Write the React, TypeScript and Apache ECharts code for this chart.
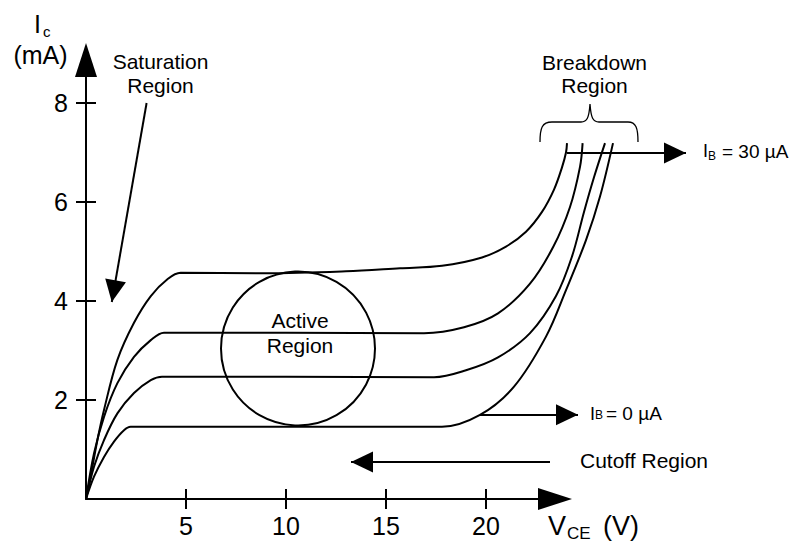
import React, { useEffect, useRef } from 'react';
import * as echarts from 'echarts';

// Collector characteristic curves (VCE in V, IC in mA)
const curveIB30 = [
  [0, 0], [0.23, 0.45], [0.57, 1.19], [0.9, 1.8], [1.57, 2.81], [2.4, 3.56], [3.24, 4.1],
  [4.07, 4.44], [4.73, 4.57], [9, 4.56], [13, 4.6], [15.7, 4.66], [17.8, 4.71], [19.8, 4.88],
  [21.0, 5.1], [22.0, 5.4], [22.8, 5.8], [23.4, 6.25], [23.8, 6.7], [24.0, 7.0], [24.05, 7.19],
];
const curveIB20 = [
  [0, 0], [0.4, 0.92], [0.9, 1.66], [1.57, 2.34], [2.4, 2.87], [3.24, 3.21], [3.9, 3.36],
  [10, 3.36], [16.9, 3.35], [18.9, 3.47], [20.6, 3.75], [22.2, 4.35], [23.37, 5.1],
  [24.2, 5.9], [24.7, 6.71], [24.83, 7.19],
];
const curveIB10 = [
  [0, 0], [0.4, 0.65], [0.9, 1.19], [1.57, 1.73], [2.4, 2.14], [3.24, 2.4], [3.8, 2.47],
  [10, 2.47], [17.4, 2.46], [19.0, 2.6], [20.6, 2.86], [22.2, 3.35], [23.5, 4.1],
  [24.3, 4.9], [24.9, 5.8], [25.4, 6.5], [25.95, 7.19],
];
const curveIB0 = [
  [0, 0], [0.4, 0.45], [0.9, 0.85], [1.4, 1.16], [1.9, 1.39], [2.23, 1.46], [10, 1.46],
  [17.8, 1.46], [19.7, 1.7], [21.4, 2.27], [23.0, 3.28], [24.0, 4.22], [25.0, 5.23],
  [25.7, 6.11], [26.35, 7.19],
];
const curves = [curveIB30, curveIB20, curveIB10, curveIB0];

// Active region circle centre (VCE, IC)
const activeCenter = [10.6, 3.04];

// Annotation arrows: [from, to] in (VCE, IC)
const arrowSaturation = [[3.03, 8.0], [1.29, 3.98]];
const arrowIB30 = [[24.05, 6.99], [30.0, 6.99]];
const arrowIB0 = [[19.7, 1.7], [24.6, 1.7]];
const arrowCutoff = [[23.2, 0.75], [13.25, 0.75]];
const arrows = [arrowSaturation, arrowIB30, arrowIB0, arrowCutoff];

const xTicks = [5, 10, 15, 20];
const yTicks = [2, 4, 6, 8];

const FONT = 'Liberation Sans, Arial, Helvetica, sans-serif';
const BRACE_D =
  'M540 142 C540 128 542 122 552 122 L581 122 C587 122 589 118 590 104 C591 118 593 122 599 122 L628 122 C636 122 638 128 638 142';

export default function App() {
  const ref = useRef<HTMLDivElement>(null);
  useEffect(() => {
    const el = ref.current as HTMLDivElement;
    echarts.graphic.registerShape('brace', echarts.graphic.extendPath(BRACE_D, {}) as any);
    const chart = echarts.init(el, null, { renderer: 'svg' });
    const black = '#000';
    const lineStyle = { color: black, width: 2 };
    const txt = (text: string, x: number, y: number, fontSize: number, align = 'left', lineHeight?: number) => ({
      type: 'text',
      silent: true,
      style: {
        text, x, y, fontSize, fontFamily: FONT, fill: black, align, verticalAlign: 'middle',
        lineHeight: lineHeight || fontSize * 1.2,
      },
    });
    const visXMax = 469 / 20;
    const visYMax = 439 / 49.5;
    chart.setOption({
      animation: false,
      backgroundColor: '#fff',
      grid: [
        { left: 86, top: 60, width: 469, height: 439, containLabel: false, outerBoundsMode: 'none' },
        { left: 86, top: 4, width: 700, height: 495, containLabel: false, outerBoundsMode: 'none' },
      ],
      xAxis: [
        {
          gridIndex: 0, type: 'value', min: 0, max: visXMax, position: 'bottom',
          axisLine: { show: true, onZero: false, lineStyle, symbol: ['none', 'triangle'], symbolSize: [22, 34] },
          axisTick: { show: true, inside: false, length: 10, lineStyle, customValues: xTicks },
          axisLabel: { show: true, customValues: xTicks, margin: 14, color: black, fontSize: 25, fontFamily: FONT },
          splitLine: { show: false },
        },
        {
          gridIndex: 0, type: 'value', min: 0, max: visXMax, position: 'bottom',
          axisLine: { show: false },
          axisTick: { show: true, inside: true, length: 10, lineStyle, customValues: xTicks },
          axisLabel: { show: false },
          splitLine: { show: false },
        },
        { gridIndex: 1, type: 'value', min: 0, max: 35, show: false, splitLine: { show: false } },
      ],
      yAxis: [
        {
          gridIndex: 0, type: 'value', min: 0, max: visYMax, position: 'left',
          axisLine: { show: true, onZero: false, lineStyle, symbol: ['none', 'triangle'], symbolSize: [22, 34] },
          axisTick: { show: true, inside: false, length: 10, lineStyle, customValues: yTicks },
          axisLabel: { show: true, customValues: yTicks, margin: 18, color: black, fontSize: 25, fontFamily: FONT },
          splitLine: { show: false },
        },
        {
          gridIndex: 0, type: 'value', min: 0, max: visYMax, position: 'left',
          axisLine: { show: false },
          axisTick: { show: true, inside: true, length: 10, lineStyle, customValues: yTicks },
          axisLabel: { show: false },
          splitLine: { show: false },
        },
        { gridIndex: 1, type: 'value', min: 0, max: 10, show: false, splitLine: { show: false } },
      ],
      series: [
        ...curves.map((c, i) => ({
          type: 'line', name: 'curve' + i, xAxisIndex: 2, yAxisIndex: 2, data: c,
          symbol: 'none', showSymbol: false, smooth: 0.35, silent: true,
          lineStyle: { color: black, width: 2 },
        })),
        {
          type: 'scatter', name: 'active', xAxisIndex: 2, yAxisIndex: 2, data: [activeCenter],
          symbol: 'circle', symbolSize: 154, silent: true,
          itemStyle: { color: 'rgba(0,0,0,0)', borderColor: black, borderWidth: 2, opacity: 1 },
        },
        {
          type: 'line', name: 'arrows', xAxisIndex: 2, yAxisIndex: 2, data: [], silent: true,
          markLine: {
            silent: true, animation: false,
            symbol: ['none', 'triangle'], symbolSize: [21, 22], symbolOffset: [0, [0, '50%']],
            lineStyle: { color: black, width: 2, type: 'solid' },
            label: { show: false },
            emphasis: { disabled: true },
            data: arrows.map(([a, b]) => [{ coord: a }, { coord: b }]),
          },
        },
      ],
      graphic: [
        txt('I', 37.5, 24, 25, 'center'),
        txt('c', 43, 31, 15),
        txt('(mA)', 40.5, 55, 25, 'center'),
        txt('Saturation\nRegion', 160.5, 73.25, 21, 'center', 24.5),
        txt('Breakdown\nRegion', 594.5, 74, 21, 'center', 23.5),
        txt('Active\nRegion', 300, 332.75, 21, 'center', 24.5),
        txt('Cutoff Region', 580, 460.5, 21),
        txt('I', 703, 151, 18),
        txt('B', 708, 156, 12),
        txt('= 30 µA', 722, 151, 19),
        txt('I', 590, 413.5, 18),
        txt('B', 595, 415, 12),
        txt('= 0 µA', 606, 413.5, 19),
        txt('V', 548, 526, 27),
        txt('CE', 567, 533.5, 17),
        txt('(V)', 603, 526, 27),
        {
          type: 'brace', silent: true, x: 0, y: 0,
          style: { stroke: black, lineWidth: 1.3, fill: 'none' },
        },
      ],
    } as any);
    return () => chart.dispose();
  }, []);
  return (
    <div
      ref={ref}
      style={{ position: 'absolute', left: 0, top: 0, width: 795, height: 543, background: '#fff' }}
    />
  );
}
